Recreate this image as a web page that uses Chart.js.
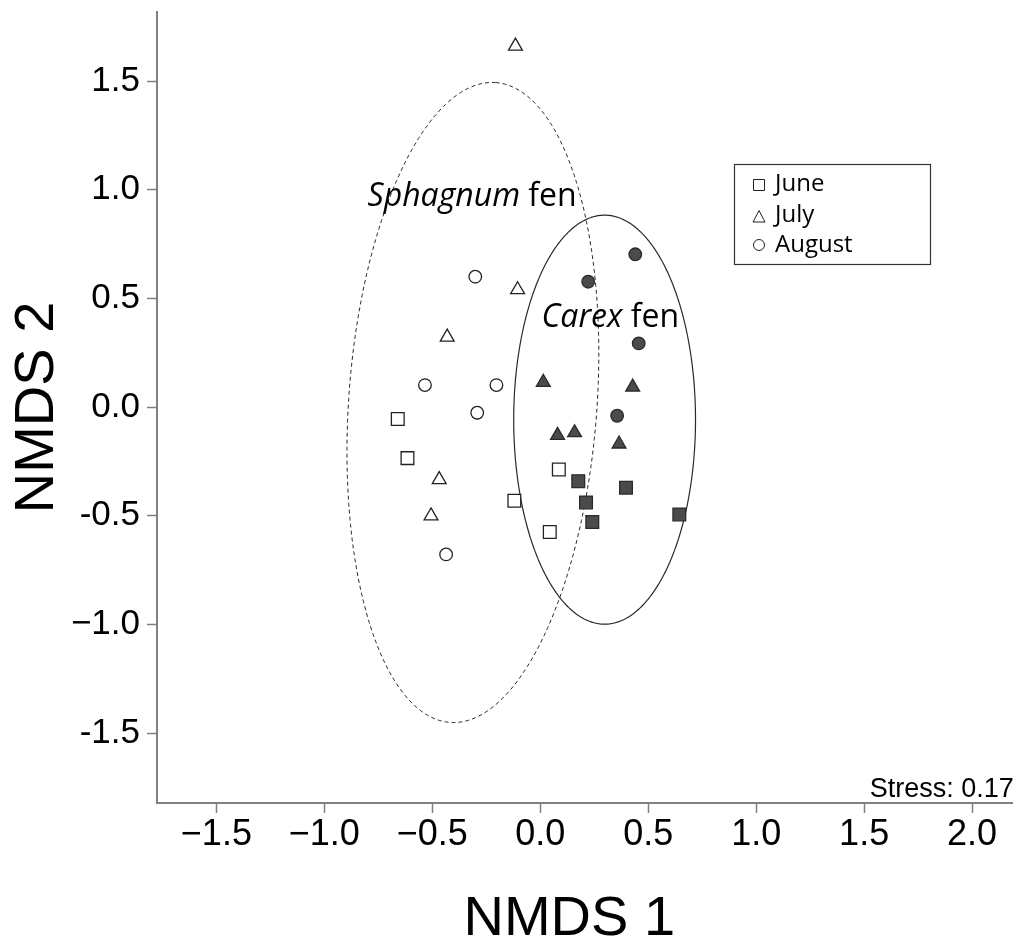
<!DOCTYPE html>
<html lang="en">
<head>
<meta charset="UTF-8">
<title>NMDS ordination of fen sites</title>
<style>
  html, body { margin: 0; padding: 0; background: #fff; }
  .plot { width: 1023px; height: 945px; position: relative; }
</style>
</head>
<body>
<div class="plot"><canvas id="nmds"></canvas></div>

<script src="https://cdn.jsdelivr.net/npm/chart.js"></script>
<script>
// NMDS site scores [NMDS1, NMDS2] per sampling month and fen type
const juneSphagnum = [[-0.660, -0.055], [-0.615, -0.235], [0.086, -0.287], [-0.120, -0.431], [0.044, -0.575]];
const juneCarex    = [[0.176, -0.341], [0.397, -0.371], [0.212, -0.439], [0.644, -0.494], [0.241, -0.529]];
const julySphagnum = [[-0.115, 1.661], [-0.105, 0.540], [-0.431, 0.322], [-0.468, -0.334], [-0.506, -0.501]];
const julyCarex    = [[0.014, 0.114], [0.428, 0.092], [0.080, -0.130], [0.159, -0.118], [0.365, -0.170]];
const augSphagnum  = [[-0.301, 0.600], [-0.534, 0.101], [-0.203, 0.101], [-0.292, -0.026], [-0.436, -0.678]];
const augCarex     = [[0.222, 0.577], [0.440, 0.703], [0.456, 0.293], [0.356, -0.040]];

const months = ['June', 'July', 'August'];

// ellipses round each fen type: centre, semi-axes (major, minor), tilt in degrees clockwise from vertical
const sphagnumEllipse = { cx: -0.312, cy: 0.021, a: 1.476, b: 0.575, tilt: 4.1 };
const carexEllipse    = { cx: 0.298, cy: -0.058, a: 0.941, b: 0.421, tilt: 0 };

const xTickValues = [-1.5, -1.0, -0.5, 0.0, 0.5, 1.0, 1.5, 2.0];
const xTickLabels = ['\u22121.5', '\u22121.0', '\u22120.5', '0.0', '0.5', '1.0', '1.5', '2.0'];
const yTickValues = [-1.5, -1.0, -0.5, 0.0, 0.5, 1.0, 1.5];
const yTickLabels = ['-1.5', '\u22121.0', '-0.5', '0.0', '0.5', '1.0', '1.5'];

const stressText = 'Stress: 0.17';

const SANS = "'Liberation Sans', Arial, sans-serif";
const HUMANIST = "'Open Sans', 'Noto Sans', sans-serif";

const toPoints = arr => arr.map(p => ({ x: p[0], y: p[1] }));

const openStyle = { backgroundColor: '#ffffff', borderColor: '#222222', borderWidth: 1.3 };
const filledStyle = { backgroundColor: '#4b4b4d', borderColor: '#2a2a2a', borderWidth: 1.3 };

function group(label, pts, shape, radius, style) {
  return Object.assign({
    label: label,
    data: toPoints(pts),
    pointStyle: shape,
    pointRadius: radius,
    pointHoverRadius: radius
  }, style);
}

const datasets = [
  group('June Sphagnum', juneSphagnum, 'rect', 9, openStyle),
  group('June Carex', juneCarex, 'rect', 9, filledStyle),
  group('July Sphagnum', julySphagnum, 'triangle', 8, openStyle),
  group('July Carex', julyCarex, 'triangle', 8, filledStyle),
  group('August Sphagnum', augSphagnum, 'circle', 6.3, openStyle),
  group('August Carex', augCarex, 'circle', 6.3, filledStyle)
];

function traceEllipse(ctx, chart, e) {
  const xs = chart.scales.x, ys = chart.scales.y;
  const th = e.tilt * Math.PI / 180;
  ctx.beginPath();
  for (let i = 0; i <= 360; i++) {
    const t = i * Math.PI / 180;
    const dx = e.a * Math.cos(t) * Math.sin(th) + e.b * Math.sin(t) * Math.cos(th);
    const dy = e.a * Math.cos(t) * Math.cos(th) - e.b * Math.sin(t) * Math.sin(th);
    const px = xs.getPixelForValue(e.cx + dx);
    const py = ys.getPixelForValue(e.cy + dy);
    if (i === 0) ctx.moveTo(px, py); else ctx.lineTo(px, py);
  }
  ctx.closePath();
}

const ellipsePlugin = {
  id: 'fenEllipses',
  beforeDatasetsDraw(chart) {
    const ctx = chart.ctx;
    ctx.save();
    ctx.strokeStyle = '#2a2a2a';
    ctx.lineWidth = 1;
    ctx.setLineDash([4, 3]);
    traceEllipse(ctx, chart, sphagnumEllipse);
    ctx.stroke();
    ctx.setLineDash([]);
    ctx.lineWidth = 1.2;
    traceEllipse(ctx, chart, carexEllipse);
    ctx.stroke();
    ctx.restore();
  }
};

// draws "Genus fen" with the genus in italics
function fenLabel(ctx, chart, genus, xVal, yVal) {
  const x = chart.scales.x.getPixelForValue(xVal);
  const y = chart.scales.y.getPixelForValue(yVal);
  ctx.font = 'italic 32px ' + HUMANIST;
  ctx.fillText(genus, x, y);
  const w = ctx.measureText(genus).width;
  ctx.font = '32px ' + HUMANIST;
  ctx.fillText(' fen', x + w, y);
}

function legendMark(ctx, shape, x, y) {
  ctx.beginPath();
  if (shape === 'rect') {
    ctx.rect(x - 5.5, y - 5.5, 11, 11);
  } else if (shape === 'triangle') {
    ctx.moveTo(x, y - 6.5);
    ctx.lineTo(x + 6, y + 5);
    ctx.lineTo(x - 6, y + 5);
    ctx.closePath();
  } else {
    ctx.arc(x, y, 5.5, 0, Math.PI * 2);
  }
  ctx.fillStyle = '#fff';
  ctx.fill();
  ctx.stroke();
}

const notesPlugin = {
  id: 'fenNotes',
  afterDatasetsDraw(chart) {
    const ctx = chart.ctx;
    const area = chart.chartArea;
    ctx.save();
    ctx.fillStyle = '#000';
    ctx.textBaseline = 'alphabetic';
    ctx.textAlign = 'left';
    fenLabel(ctx, chart, 'Sphagnum', -0.80, 0.925);
    fenLabel(ctx, chart, 'Carex', 0.006, 0.368);

    // month legend
    const lx = 734.5, ly = 164.5, lw = 196, lh = 100;
    ctx.strokeStyle = '#333';
    ctx.lineWidth = 1.2;
    ctx.strokeRect(lx, ly, lw, lh);
    const shapes = ['rect', 'triangle', 'circle'];
    const rowY = [191, 222, 252];
    const markY = [185, 217, 245];
    ctx.lineWidth = 1;
    months.forEach((m, i) => {
      ctx.strokeStyle = '#222';
      legendMark(ctx, shapes[i], 759, markY[i]);
      ctx.fillStyle = '#000';
      ctx.font = '24px ' + HUMANIST;
      ctx.fillText(m, 775, rowY[i]);
    });

    ctx.font = '27px ' + SANS;
    ctx.textAlign = 'right';
    ctx.fillText(stressText, area.right + 1, area.bottom - 6);
    ctx.restore();
  }
};

// fixed scale boxes so the plot area sits at left 157, top 12, bottom 803
function fixBox(size) {
  return function (scale) {
    if (scale.isHorizontal()) scale.height = size; else scale.width = size;
    scale.paddingTop = 0;
    scale.paddingBottom = 0;
    scale.paddingLeft = 0;
    scale.paddingRight = 0;
  };
}

new Chart(document.getElementById('nmds'), {
  type: 'scatter',
  data: { datasets: datasets },
  options: {
    responsive: true,
    maintainAspectRatio: false,
    animation: false,
    layout: { padding: { top: 12, right: 1, left: 0, bottom: 0 } },
    plugins: {
      legend: { display: false },
      tooltip: { enabled: false }
    },
    scales: {
      x: {
        type: 'linear',
        min: -1.775,
        max: 2.188,
        afterFit: fixBox(142),
        afterBuildTicks(scale) { scale.ticks = xTickValues.map(v => ({ value: v })); },
        grid: { drawOnChartArea: false, drawTicks: true, tickLength: 10, tickColor: '#808080', tickWidth: 1.5 },
        border: { display: true, color: '#808080', width: 2 },
        ticks: {
          color: '#000',
          padding: 0,
          maxRotation: 0,
          font: { family: SANS, size: 36 },
          callback: (v) => xTickLabels[xTickValues.indexOf(v)]
        },
        title: {
          display: true,
          text: 'NMDS 1  ',
          color: '#000',
          font: { family: SANS, size: 56, lineHeight: 0.9 },
          padding: { top: 0, bottom: 0 }
        }
      },
      y: {
        type: 'linear',
        min: -1.822,
        max: 1.818,
        afterFit: fixBox(157),
        afterBuildTicks(scale) { scale.ticks = yTickValues.map(v => ({ value: v })); },
        grid: { drawOnChartArea: false, drawTicks: true, tickLength: 10, tickColor: '#808080', tickWidth: 1.5 },
        border: { display: true, color: '#808080', width: 2 },
        ticks: {
          color: '#000',
          padding: 7,
          font: { family: SANS, size: 35 },
          callback: (v) => yTickLabels[yTickValues.indexOf(v)]
        },
        title: {
          display: true,
          text: 'NMDS 2',
          color: '#000',
          font: { family: SANS, size: 56, lineHeight: 0.9 },
          padding: { top: 12, bottom: 0 }
        }
      }
    }
  },
  plugins: [ellipsePlugin, notesPlugin]
});
</script>
</body>
</html>
